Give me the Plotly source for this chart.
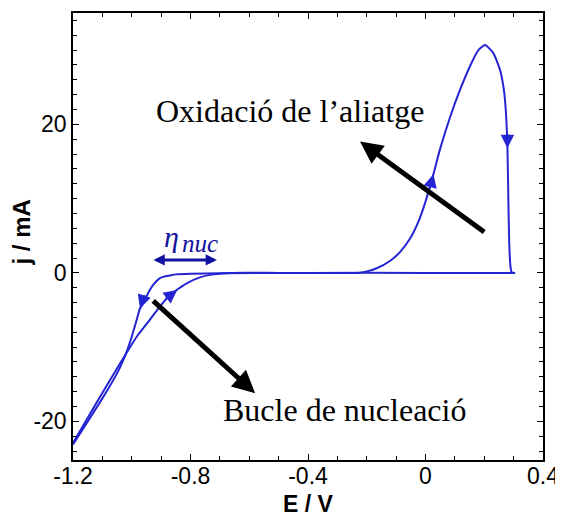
import plotly.graph_objects as go

# Anodic (forward) sweep: -1.2 V -> 0.305 V
E_fwd = [-1.2, -1.12, -1.04, -0.983, -0.938, -0.904, -0.87, -0.84,
         -0.813, -0.768, -0.722, -0.66, -0.5, -0.3, -0.23, -0.2, -0.166,
         -0.121, -0.087, -0.053, -0.024, 0.0, 0.027, 0.049, 0.083,
         0.117, 0.151, 0.18, 0.203, 0.231, 0.254, 0.267, 0.274, 0.279, 0.282,
         0.285, 0.289, 0.293, 0.305]
j_fwd = [-22.9, -17.5, -12.2, -8.6, -6.3, -4.5, -3.0, -2.1,
         -1.4, -0.6, -0.2, 0.0, 0.0, 0.0, 0.0, 0.2, 0.63,
         1.6, 2.8, 4.6, 6.9, 9.6, 13.3, 16.6, 20.9,
         24.6, 27.8, 30.0, 30.7, 29.6, 27.3, 24.6, 21.5, 16.8, 10.0,
         4.0, 1.0, 0.1, 0.0]

# Cathodic (reverse) sweep: 0.305 V -> -1.2 V
E_rev = [0.305, 0.0, -0.4, -0.7, -0.8, -0.85, -0.87, -0.89, -0.904, -0.927,
         -0.944, -0.961, -0.972, -0.983, -1.0, -1.023, -1.051, -1.1, -1.2]
j_rev = [0.0, 0.0, 0.0, -0.05, -0.1, -0.2, -0.35, -0.5, -0.7, -1.6,
         -2.7, -4.1, -4.8, -6.3, -8.6, -11.2, -13.6, -16.9, -23.1]

x_ticks = [-1.2, -0.8, -0.4, 0, 0.4]
x_ticklabels = ["-1.2", "-0.8", "-0.4", "0", "0.4"]
y_ticks = [-20, 0, 20]
y_ticklabels = ["-20", "0", "20"]

BLUE = "#2424d2"
DARKBLUE = "#1212a0"

fig = go.Figure()
for ex, jy in [(E_fwd, j_fwd), (E_rev, j_rev)]:
    fig.add_trace(go.Scatter(x=ex, y=jy, mode="lines",
                             line=dict(color=BLUE, width=2, shape="spline", smoothing=0.5),
                             showlegend=False, hoverinfo="skip"))

ann = []
# small direction arrowheads on the curve
for (x, y, ax, ay) in [(-0.972, -4.8, 5, -15), (-0.845, -2.3, -13, 10),
                       (0.027, 13.3, -4, 16), (0.279, 16.8, 0, -16)]:
    ann.append(dict(x=x, y=y, ax=ax, ay=ay, xref="x", yref="y", text="",
                    showarrow=True, arrowhead=2, arrowwidth=2, arrowsize=1.35,
                    arrowcolor=BLUE, standoff=0))

# big black arrows
ann.append(dict(x=-0.223, y=17.7, ax=0.205, ay=5.35, xref="x", yref="y",
                axref="x", ayref="y", text="", showarrow=True, arrowhead=2,
                arrowwidth=5, arrowsize=0.9, arrowcolor="black", standoff=0))
ann.append(dict(x=-0.58, y=-16.2, ax=-0.932, ay=-3.6, xref="x", yref="y",
                axref="x", ayref="y", text="", showarrow=True, arrowhead=2,
                arrowwidth=5, arrowsize=0.9, arrowcolor="black", standoff=0))

# eta_nuc double arrow
ann.append(dict(x=-0.71, y=1.75, ax=-0.931, ay=1.75, xref="x", yref="y",
                axref="x", ayref="y", text="", showarrow=True, arrowhead=2,
                startarrowhead=2, arrowside="end+start", arrowwidth=3,
                arrowsize=0.75, startarrowsize=0.75, arrowcolor=DARKBLUE, standoff=0,
                startstandoff=0))

serif = "Liberation Serif, Times New Roman, serif"
ann.append(dict(x=-0.863, y=4.9, xref="x", yref="y", text="<i>η</i>",
                showarrow=False, font=dict(family=serif, size=30, color=DARKBLUE),
                xanchor="center", yanchor="middle"))
ann.append(dict(x=-0.836, y=3.96, xref="x", yref="y", text="<i>nuc</i>",
                showarrow=False, font=dict(family=serif, size=25, color=DARKBLUE),
                xanchor="left", yanchor="middle"))
ann.append(dict(x=-0.461, y=21.8, xref="x", yref="y", text="Oxidació de l’aliatge",
                showarrow=False, font=dict(family=serif, size=32, color="black"),
                xanchor="center", yanchor="middle"))
ann.append(dict(x=-0.276, y=-18.4, xref="x", yref="y", text="Bucle de nucleació",
                showarrow=False, font=dict(family=serif, size=32, color="black"),
                xanchor="center", yanchor="middle"))

sans = "Liberation Sans, Arial, sans-serif"
# axis titles
ann.append(dict(x=0.5, y=0, xref="paper", yref="paper", yshift=-43.5,
                text="<b>E / V</b>", showarrow=False,
                font=dict(family=sans, size=23, color="black"),
                xanchor="center", yanchor="middle"))
ann.append(dict(x=0, y=0.5, xref="paper", yref="paper", xshift=-52, yshift=4,
                text="<b>j / mA</b>", showarrow=False, textangle=-90,
                font=dict(family=sans, size=24, color="black"),
                xanchor="center", yanchor="middle"))

# The page body adds an 8 px margin, so the figure is 8 px smaller than the window.
fig.update_layout(
    width=555, height=510,
    margin=dict(l=65, r=20, t=5, b=58, autoexpand=False),
    plot_bgcolor="white", paper_bgcolor="white",
    annotations=ann,
    xaxis=dict(range=[-1.2, 0.4], tickvals=x_ticks, ticktext=x_ticklabels,
               automargin=False, ticklabelstandoff=-5,
               ticks="inside", ticklen=6, tickwidth=1, tickcolor="black",
               showline=True, linecolor="black", linewidth=1.5, mirror="ticks",
               showgrid=False, zeroline=False,
               minor=dict(dtick=0.1, tick0=-1.2, ticks="inside", ticklen=4,
                          tickcolor="black", showgrid=False),
               tickfont=dict(family=sans, size=23, color="black")),
    yaxis=dict(range=[-25.2, 35.0], tickvals=y_ticks, ticktext=y_ticklabels,
               automargin=False,
               ticks="inside", ticklen=6, tickwidth=1, tickcolor="black",
               showline=True, linecolor="black", linewidth=1.5, mirror="ticks",
               showgrid=False, zeroline=False,
               minor=dict(dtick=2, tick0=0, ticks="inside", ticklen=4,
                          tickcolor="black", showgrid=False),
               tickfont=dict(family=sans, size=23, color="black")),
)

fig.write_html("out.html")
